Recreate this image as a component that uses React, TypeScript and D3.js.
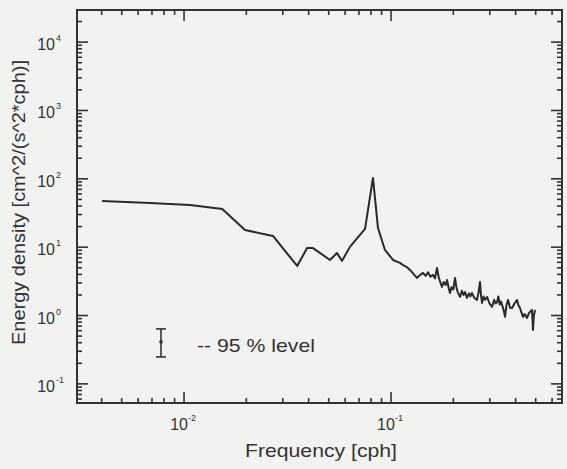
import React from "react";
import * as d3 from "d3";

// Spectrum: frequency (cph) and energy density
const freq: number[] = [
  0.00402, 0.00686, 0.0107, 0.0153, 0.0197, 0.0269, 0.0352, 0.0393, 0.042, 0.0507,
  0.0548, 0.058, 0.0633, 0.0749, 0.0818, 0.0865, 0.0935, 0.1023, 0.1105, 0.115,
  0.1194, 0.124, 0.129, 0.1335, 0.138, 0.1428, 0.147, 0.151, 0.155, 0.1596,
  0.163, 0.1668, 0.17, 0.1735, 0.1763, 0.18, 0.1835, 0.1865, 0.19, 0.1928,
  0.196, 0.2, 0.2038, 0.207, 0.21, 0.2155, 0.22, 0.224, 0.228, 0.2328,
  0.238, 0.242, 0.246, 0.253, 0.26, 0.265, 0.269, 0.272, 0.2752, 0.28,
  0.285, 0.2911, 0.299, 0.3078, 0.315, 0.32, 0.3254, 0.33, 0.335, 0.34,
  0.344, 0.35, 0.3556, 0.361, 0.3676, 0.376, 0.3843, 0.395, 0.4062, 0.413,
  0.4199, 0.427, 0.4341, 0.442, 0.4539, 0.465, 0.4798, 0.4853, 0.49, 0.4966,
];
const energy: number[] = [
  47.3, 44.3, 41.4, 36.2, 17.8, 14.6, 5.31, 9.7, 9.7, 6.5,
  8.2, 6.3, 10.1, 18.5, 103, 19.1, 9.1, 6.5, 5.9, 5.4,
  5.1, 4.6, 4.0, 3.55, 3.9, 4.2, 3.8, 4.3, 3.7, 3.93,
  3.5, 4.97, 3.6, 3.0, 2.62, 3.1, 2.8, 3.31, 2.5, 2.14,
  2.6, 2.4, 3.55, 2.6, 2.2, 1.87, 2.3, 2.0, 2.2, 1.81,
  2.1, 1.9, 2.14, 1.8, 1.69, 2.2, 3.1, 2.0, 1.53, 1.9,
  1.7, 1.87, 1.5, 1.34, 1.7, 1.5, 1.58, 1.9, 1.45, 1.6,
  1.43, 1.2, 0.955, 1.4, 1.69, 1.3, 1.29, 1.5, 1.69, 1.4,
  1.29, 1.1, 0.955, 1.05, 0.923, 1.1, 1.21, 0.615, 1.0, 1.21,
];

// 95% confidence bar
const ciFreq = 0.00774;
const ciLow = 0.248;
const ciMid = 0.411;
const ciHigh = 0.637;
const ciLabel = "-- 95 % level";

const xDomain: [number, number] = [0.00304, 0.67];
const yDomain: [number, number] = [0.0525, 29500];
const xMajor: number[] = [-2, -1];
const yMajor: number[] = [-1, 0, 1, 2, 3, 4];
const xTitle = "Frequency [cph]";
const yTitle = "Energy density [cm^2/(s^2*cph)]";

const W = 567;
const H = 469;
const L = 77, R = 562, T = 10, B = 403;
const ink = "#333";
const font = "'Liberation Sans', Arial, Helvetica, sans-serif";

export default function App() {
  const x = d3.scaleLog().domain(xDomain).range([L, R]);
  const y = d3.scaleLog().domain(yDomain).range([B, T]);

  const pts = freq.map((f, i) => [f, energy[i]] as [number, number]);
  const line = d3
    .line<[number, number]>()
    .x((d) => x(d[0]))
    .y((d) => y(d[1]));

  const inRange = (v: number, dom: [number, number]) => v >= dom[0] && v <= dom[1];
  const xTicks: { v: number; major: boolean }[] = [];
  for (let e = -3; e <= 0; e++) {
    for (let m = 1; m <= 9; m++) {
      const v = m * Math.pow(10, e);
      if (inRange(v, xDomain)) xTicks.push({ v, major: m === 1 });
    }
  }
  const yTicks: { v: number; major: boolean }[] = [];
  for (let e = -2; e <= 4; e++) {
    for (let m = 1; m <= 9; m++) {
      const v = m * Math.pow(10, e);
      if (inRange(v, yDomain)) yTicks.push({ v, major: m === 1 });
    }
  }

  const majLen = 11;
  const minLen = 5;

  return (
    <div style={{ position: "absolute", left: 0, top: 0 }}>
      <svg width={W} height={H} style={{ display: "block", background: "#f2f2f0" }}>
        <rect x={0} y={0} width={W} height={H} fill="#f2f2f0" />
        {/* ticks */}
        <g stroke={ink} strokeWidth={1.6}>
          {xTicks.map((t, i) => {
            const px = x(t.v);
            const len = t.major ? majLen : minLen;
            return (
              <g key={"xt" + i}>
                <line x1={px} x2={px} y1={B} y2={B - len} />
                <line x1={px} x2={px} y1={T} y2={T + len} />
              </g>
            );
          })}
          {yTicks.map((t, i) => {
            const py = y(t.v);
            const len = t.major ? majLen : minLen;
            return (
              <g key={"yt" + i}>
                <line x1={L} x2={L + len} y1={py} y2={py} />
                <line x1={R} x2={R - len} y1={py} y2={py} />
              </g>
            );
          })}
        </g>
        {/* frame */}
        <rect x={L} y={T} width={R - L} height={B - T} fill="none" stroke={ink} strokeWidth={2} />
        {/* x tick labels */}
        <g fill={ink} fontFamily={font}>
          {xMajor.map((e) => {
            const px = x(Math.pow(10, e));
            return (
              <g key={"xl" + e}>
                <text x={px - 5} y={430} fontSize={16} textAnchor="middle">10</text>
                <text x={px + 4} y={421} fontSize={9}>{e}</text>
              </g>
            );
          })}
          {yMajor.map((e) => {
            const py = y(Math.pow(10, e));
            return (
              <g key={"yl" + e}>
                <text x={55} y={py + 8} fontSize={16} textAnchor="end">10</text>
                <text x={56} y={py - 1} fontSize={9}>{e}</text>
              </g>
            );
          })}
        </g>
        {/* axis titles */}
        <text x={321} y={457} fontSize={19} fill={ink} fontFamily={font} textAnchor="middle"
          textLength={152} lengthAdjust="spacingAndGlyphs">{xTitle}</text>
        <text transform={`translate(25,${202.5}) rotate(-90)`} fontSize={18} fill={ink}
          fontFamily={font} textAnchor="middle" textLength={285} lengthAdjust="spacingAndGlyphs">{yTitle}</text>
        {/* spectrum */}
        <path d={line(pts) || ""} fill="none" stroke="#2a2a2a" strokeWidth={2} strokeLinejoin="round" />
        {/* confidence bar */}
        <g stroke={ink} strokeWidth={1.6}>
          <line x1={x(ciFreq)} x2={x(ciFreq)} y1={y(ciHigh)} y2={y(ciLow)} />
          <line x1={x(ciFreq) - 5} x2={x(ciFreq) + 5} y1={y(ciHigh)} y2={y(ciHigh)} />
          <line x1={x(ciFreq) - 5} x2={x(ciFreq) + 5} y1={y(ciLow)} y2={y(ciLow)} />
        </g>
        <circle cx={x(ciFreq)} cy={y(ciMid)} r={1.8} fill={ink} />
        <text x={197} y={352} fontSize={19} fill={ink} fontFamily={font}
          textLength={118} lengthAdjust="spacingAndGlyphs">{ciLabel}</text>
      </svg>
    </div>
  );
}
